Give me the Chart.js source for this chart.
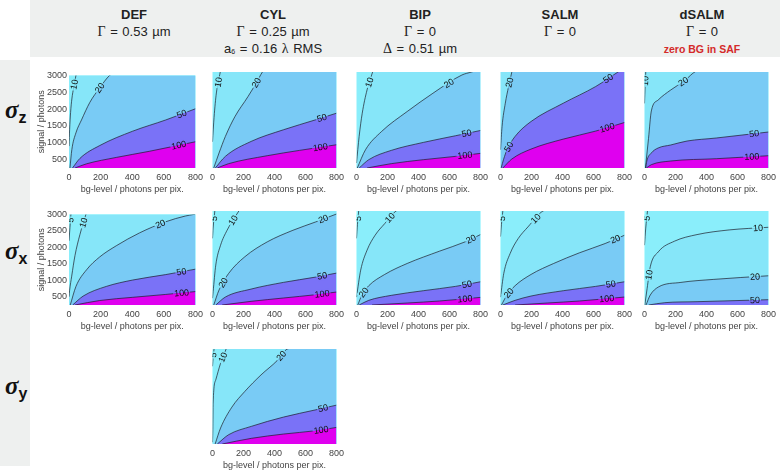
<!DOCTYPE html>
<html>
<head>
<meta charset="utf-8">
<script src="https://cdn.jsdelivr.net/npm/chart.js@4.4.1/dist/chart.umd.min.js"></script>
<style>
  body { margin: 0; width: 780px; height: 471px; position: relative; background: #fff; overflow: hidden;
         font-family: "Liberation Sans", Arial, sans-serif; }
  .hdr { position: absolute; left: 30px; top: 0; width: 750px; height: 57px; background: #eef0ef; }
  .side { position: absolute; left: 0; top: 60px; width: 30px; height: 406px; background: #eef0ef; }
  .col { position: absolute; top: 6px; width: 160px; margin-left: -80px; text-align: center;
         color: #222; font-size: 13px; line-height: 17px; white-space: nowrap; word-spacing: 1px; }
  .col b { font-size: 13px; }
  .col .g { font-family: "Liberation Serif", "Times New Roman", serif; font-size: 14px; }
  .col .red { color: #d42a2a; font-weight: bold; font-size: 10.5px; word-spacing: 0; }
  .col sub { font-size: 7px; vertical-align: -1px; }
  .sig { position: absolute; left: 5px; color: #111; white-space: nowrap; }
  .sig i { font-family: "Liberation Serif", "Times New Roman", serif; font-weight: bold; font-size: 25px; }
  .sig b { font-size: 16px; position: relative; top: 5px; }
  canvas { position: absolute; }
</style>
</head>
<body>
<div class="hdr"></div>
<div class="side"></div>
<div class="col" style="left:134px"><b>DEF</b><br><span class="g">Γ</span> = 0.53 µm</div>
<div class="col" style="left:273px"><b>CYL</b><br><span class="g">Γ</span> = 0.25 µm<br>a<sub>6</sub> = 0.16 <span class="g">λ</span> RMS</div>
<div class="col" style="left:420px"><b>BIP</b><br><span class="g">Γ</span> = 0<br><span class="g">Δ</span> = 0.51 µm</div>
<div class="col" style="left:560px"><b>SALM</b><br><span class="g">Γ</span> = 0</div>
<div class="col" style="left:702px"><b>dSALM</b><br><span class="g">Γ</span> = 0<br><span class="red">zero BG in SAF</span></div>
<div class="sig" style="top:96px"><i>σ</i><b>z</b></div>
<div class="sig" style="top:237px"><i>σ</i><b>x</b></div>
<div class="sig" style="top:372px"><i>σ</i><b>y</b></div>

<script>
// axes
const xTicks = [0, 200, 400, 600, 800];
const yTicks = [500, 1000, 1500, 2000, 2500, 3000];
const xMax = 800, yMin = 250, yMax = 3000;

// contour lines, [bg-level, signal]
// sigma z
const DEF_Z_10 = [[0, 900], [4, 1400], [10, 1900], [18, 2300], [30, 2650], [44, 3000]];
const DEF_Z_20 = [[6, 250], [18, 800], [44, 1297], [79, 1677], [132, 2200], [194, 2629], [257, 3000]];
const DEF_Z_50 = [[22, 250], [69, 535], [194, 916], [403, 1344], [612, 1677], [800, 2010]];
const DEF_Z_100 = [[38, 250], [111, 374], [299, 564], [507, 745], [800, 1030]];

const CYL_Z_10 = [[0, 1000], [10, 1700], [25, 2400], [50, 3000]];
const CYL_Z_20 = [[8, 250], [42, 678], [83, 1154], [145, 1725], [229, 2296], [281, 2677], [322, 3000]];
const CYL_Z_50 = [[18, 250], [83, 583], [249, 1011], [457, 1344], [665, 1630], [800, 1820]];
const CYL_Z_100 = [[31, 250], [104, 374], [353, 602], [561, 754], [800, 916]];

const BIP_Z_10 = [[0, 393], [17, 1154], [37, 1820], [68, 2486], [104, 3000]];
const BIP_Z_20 = [[5, 250], [58, 773], [162, 1297], [327, 1868], [493, 2391], [680, 2914], [742, 3000]];
const BIP_Z_50 = [[17, 250], [79, 488], [224, 754], [431, 983], [638, 1173], [800, 1325]];
const BIP_Z_100 = [[68, 250], [224, 374], [431, 488], [638, 583], [800, 669]];

const SALM_Z_20 = [[0, 773], [10, 1439], [31, 2106], [52, 2581], [73, 3000]];
const SALM_Z_50 = [[4, 250], [20, 500], [42, 773], [94, 1154], [197, 1582], [405, 2106], [613, 2581], [758, 3000]];
const SALM_Z_100 = [[15, 250], [73, 507], [197, 792], [405, 1078], [613, 1306], [800, 1553]];

const DSALM_Z_10 = [[0, 2100], [4, 2600], [8, 3000]];
const DSALM_Z_20 = [[6, 250], [26, 1100], [44, 1883], [88, 2198], [169, 2484], [256, 2742], [338, 3029]];
const DSALM_Z_50 = [[8, 250], [15, 450], [44, 680], [88, 823], [169, 909], [275, 1023], [463, 1109], [800, 1281]];
const DSALM_Z_100 = [[12, 250], [44, 345], [169, 450], [463, 516], [800, 602]];

// sigma x
const DEF_X_5 = [[0, 2200], [6, 2600], [12, 3000]];
const DEF_X_10 = [[0, 500], [4, 700], [17, 1125], [38, 1756], [69, 2388], [107, 3000]];
const DEF_X_20 = [[8, 250], [44, 814], [111, 1319], [194, 1708], [299, 2048], [445, 2436], [612, 2777], [737, 2952], [790, 3000]];
const DEF_X_50 = [[23, 250], [90, 522], [236, 814], [403, 1008], [612, 1173], [800, 1338]];
const DEF_X_100 = [[38, 250], [194, 386], [403, 483], [612, 571], [800, 658]];

const CYL_X_5 = [[0, 2200], [4, 2500], [15, 3000]];
const CYL_X_10 = [[0, 450], [4, 639], [21, 1416], [52, 1999], [94, 2436], [145, 2825], [170, 3000]];
const CYL_X_20 = [[8, 250], [42, 687], [104, 1173], [208, 1659], [353, 2096], [519, 2436], [665, 2679], [800, 2912]];
const CYL_X_50 = [[21, 250], [83, 483], [249, 716], [457, 911], [665, 1066], [800, 1183]];
const CYL_X_100 = [[62, 250], [249, 357], [457, 454], [665, 551], [800, 629]];

const BIP_X_5 = [[0, 2200], [6, 2600], [14, 3000]];
const BIP_X_10 = [[0, 480], [27, 1270], [68, 1853], [120, 2291], [182, 2631], [255, 3000]];
const BIP_X_20 = [[8, 250], [37, 561], [79, 814], [182, 1144], [327, 1465], [535, 1824], [700, 2096], [800, 2310]];
const BIP_X_50 = [[17, 250], [79, 386], [224, 532], [431, 668], [638, 794], [800, 930]];
const BIP_X_100 = [[100, 250], [327, 308], [535, 367], [800, 473]];

const SALM_X_5 = [[0, 2250], [6, 2600], [15, 3000]];
const SALM_X_10 = [[0, 480], [21, 1173], [62, 1756], [114, 2193], [177, 2534], [274, 3000]];
const SALM_X_20 = [[6, 250], [42, 541], [94, 814], [197, 1144], [343, 1465], [509, 1776], [675, 2048], [800, 2291]];
const SALM_X_50 = [[15, 250], [94, 386], [197, 512], [405, 668], [613, 794], [800, 930]];
const SALM_X_100 = [[94, 250], [301, 308], [509, 367], [800, 483]];

const DSALM_X_5 = [[0, 2000], [8, 2500], [19, 3000]];
const DSALM_X_10 = [[2, 250], [17, 736], [37, 1367], [89, 1805], [193, 2116], [339, 2310], [546, 2446], [800, 2524]];
const DSALM_X_20 = [[10, 250], [37, 541], [89, 775], [235, 911], [443, 998], [800, 1105]];
const DSALM_X_50 = [[27, 250], [131, 318], [339, 347], [800, 405]];

// sigma y
const CYL_Y_5 = [[0, 2500], [4, 2750], [10, 3000]];
const CYL_Y_10 = [[0, 300], [2, 663], [4, 1433], [21, 2106], [52, 2586], [88, 3000]];
const CYL_Y_20 = [[17, 250], [52, 712], [125, 1317], [208, 1769], [313, 2250], [417, 2663], [483, 3000]];
const CYL_Y_50 = [[31, 250], [104, 519], [250, 760], [458, 1029], [667, 1240], [800, 1375]];
const CYL_Y_100 = [[63, 250], [250, 413], [458, 538], [667, 635], [800, 731]];

// band colours, index i = region just above contour levels[i]
const levels = [5, 10, 20, 50, 100];
const bandColors = ['#8ff6fd', '#8aeefb', '#86e6f9', '#79cbf5', '#7a72f7', '#df00ef'];

const colLeft = [69, 210, 354, 498, 642];
const rowTop = [72, 211, 349];
const rowH = [96, 94, 95];
const plotW = 128;

const plots = [
  { row: 0, col: 0, yAxis: true, curves: [[10, DEF_Z_10], [20, DEF_Z_20], [50, DEF_Z_50], [100, DEF_Z_100]],
    labels: [[10, 38, 2724], [20, 194, 2629], [50, 712, 1868], [100, 695, 916]] },
  { row: 0, col: 1, curves: [[10, CYL_Z_10], [20, CYL_Z_20], [50, CYL_Z_50], [100, CYL_Z_100]],
    labels: [[10, 52, 2695], [20, 281, 2695], [50, 706, 1677], [100, 696, 849]] },
  { row: 0, col: 2, curves: [[10, BIP_Z_10], [20, BIP_Z_20], [50, BIP_Z_50], [100, BIP_Z_100]],
    labels: [[10, 89, 2695], [20, 576, 2819], [50, 711, 1230], [100, 700, 602]] },
  { row: 0, col: 3, curves: [[20, SALM_Z_20], [50, SALM_Z_50], [100, SALM_Z_100]],
    labels: [[20, 62, 2695], [50, 686, 2867], [50, 42, 888], [100, 686, 1439]] },
  { row: 0, col: 4, curves: [[10, DSALM_Z_10], [20, DSALM_Z_20], [50, DSALM_Z_50], [100, DSALM_Z_100]],
    labels: [[10, 25, 2742], [20, 245, 2760], [50, 709, 1201], [100, 692, 583]] },
  { row: 1, col: 0, yAxis: true, curves: [[5, DEF_X_5], [10, DEF_X_10], [20, DEF_X_20], [50, DEF_X_50], [100, DEF_X_100]],
    labels: [[5, 23, 2825], [10, 107, 2728], [20, 570, 2796], [50, 712, 1222], [100, 712, 619]] },
  { row: 1, col: 1, curves: [[5, CYL_X_5], [10, CYL_X_10], [20, CYL_X_20], [50, CYL_X_50], [100, CYL_X_100]],
    labels: [[5, 15, 2777], [10, 135, 2728], [20, 707, 2854], [20, 66, 911], [50, 707, 1125], [100, 707, 571]] },
  { row: 1, col: 2, curves: [[5, BIP_X_5], [10, BIP_X_10], [20, BIP_X_20], [50, BIP_X_50], [100, BIP_X_100]],
    labels: [[5, 27, 2777], [10, 234, 2728], [20, 732, 2242], [20, 41, 639], [50, 711, 882], [100, 700, 425]] },
  { row: 1, col: 3, curves: [[5, SALM_X_5], [10, SALM_X_10], [20, SALM_X_20], [50, SALM_X_50], [100, SALM_X_100]],
    labels: [[5, 27, 2777], [10, 239, 2728], [20, 733, 2261], [20, 42, 639], [50, 711, 882], [100, 686, 425]] },
  { row: 1, col: 4, curves: [[5, DSALM_X_5], [10, DSALM_X_10], [20, DSALM_X_20], [50, DSALM_X_50]],
    labels: [[5, 48, 2777], [10, 733, 2485], [10, 37, 1125], [20, 713, 1095], [50, 713, 386]] },
  { row: 2, col: 1, curves: [[5, CYL_Y_5], [10, CYL_Y_10], [20, CYL_Y_20], [50, CYL_Y_50], [100, CYL_Y_100]],
    labels: [[5, 4, 2827], [10, 83, 2731], [20, 438, 2827], [50, 708, 1385], [100, 698, 731]] }
];

Chart.defaults.font.family = '"Liberation Sans", Arial, sans-serif';
Chart.defaults.font.size = 9;
Chart.defaults.color = '#444';

const areaBg = {
  id: 'areaBg',
  beforeDatasetsDraw(chart, args, opts) {
    const a = chart.chartArea, ctx = chart.ctx;
    ctx.save();
    ctx.fillStyle = opts.color;
    ctx.fillRect(a.left, a.top, a.right - a.left, a.bottom - a.top);
    ctx.restore();
  }
};

// inline contour labels, placed at the nearest point of the line
const contourLabels = {
  id: 'contourLabels',
  afterDatasetsDraw(chart) {
    const ctx = chart.ctx, a = chart.chartArea;
    const xs = chart.scales.x, ys = chart.scales.y;
    ctx.save();
    ctx.beginPath();
    ctx.rect(a.left, a.top, a.right - a.left, a.bottom - a.top);
    ctx.clip();
    ctx.font = '9px "Liberation Sans", Arial, sans-serif';
    ctx.textAlign = 'center';
    ctx.textBaseline = 'middle';
    chart.data.datasets.forEach((ds, i) => {
      const pts = chart.getDatasetMeta(i).data;
      ds.marks.forEach(([lx, ly]) => {
        const px = xs.getPixelForValue(lx), py = ys.getPixelForValue(ly);
        let best = null;
        for (let k = 0; k < pts.length - 1; k++) {
          const p0 = pts[k], p1 = pts[k + 1];
          const dx = p1.x - p0.x, dy = p1.y - p0.y;
          const len2 = dx * dx + dy * dy || 1;
          let t = ((px - p0.x) * dx + (py - p0.y) * dy) / len2;
          t = Math.max(0, Math.min(1, t));
          const qx = p0.x + t * dx, qy = p0.y + t * dy;
          const d = (qx - px) ** 2 + (qy - py) ** 2;
          if (!best || d < best.d) best = { d, qx, qy, ang: Math.atan2(dy, dx) };
        }
        const txt = String(ds.level);
        const w = ctx.measureText(txt).width + 2;
        ctx.save();
        ctx.translate(best.qx, best.qy);
        ctx.rotate(best.ang);
        ctx.fillStyle = ds.above;
        ctx.fillRect(-w / 2, -4.5, w, 4.5);
        ctx.fillStyle = ds.backgroundColor;
        ctx.fillRect(-w / 2, 0, w, 4.5);
        ctx.fillStyle = '#111';
        ctx.fillText(txt, 0, 0.5);
        ctx.restore();
      });
    });
    ctx.restore();
  }
};

// carry a line that leaves through the top straight on, so the fill closes at the right edge
function extendTop(data) {
  const last = data[data.length - 1], prev = data[data.length - 2];
  if (last.y < yMax || last.x >= xMax) return;
  const sx = last.x - prev.x, sy = last.y - prev.y;
  const nx = last.x + sx;
  if (nx >= xMax) {
    data.push({ x: xMax, y: last.y + sy * (xMax - last.x) / sx });
  } else {
    data.push({ x: nx, y: last.y + sy });
    data.push({ x: xMax, y: last.y + sy + 20000 });
  }
}

function makeChart(p) {
  const padL = p.yAxis ? 33 : 4;
  const h = rowH[p.row];
  const cv = document.createElement('canvas');
  const W = padL + plotW + 10, H = 4 + h + 27;
  cv.width = W; cv.height = H;
  cv.style.left = (colLeft[p.col] - padL) + 'px';
  cv.style.top = (rowTop[p.row] - 4) + 'px';
  document.body.appendChild(cv);

  // highest level first: drawn last, on top of the wider fills
  const curves = p.curves.slice().sort((u, v) => v[0] - u[0]);
  const lowest = Math.min(...p.curves.map(c => c[0]));
  const datasets = curves.map(([lev, arr]) => {
    const idx = levels.indexOf(lev);
    const data = arr.map(([x, y]) => ({ x, y }));
    extendTop(data);
    return {
      level: lev,
      data,
      showLine: true,
      fill: 'start',
      backgroundColor: bandColors[idx + 1],
      above: bandColors[idx],
      borderColor: '#1c1c2a',
      borderWidth: 0.7,
      pointRadius: 0,
      cubicInterpolationMode: 'monotone',
      marks: p.labels.filter(l => l[0] === lev).map(l => [l[1], l[2]])
    };
  });

  new Chart(cv, {
    type: 'scatter',
    data: { datasets },
    options: {
      responsive: false,
      animation: false,
      events: [],
      layout: { padding: { left: p.yAxis ? 0 : 4, top: 4, right: 10, bottom: 0 } },
      plugins: {
        legend: { display: false },
        tooltip: { enabled: false },
        areaBg: { color: bandColors[levels.indexOf(lowest)] }
      },
      scales: {
        x: {
          type: 'linear', min: 0, max: xMax,
          afterBuildTicks: s => { s.ticks = xTicks.map(v => ({ value: v })); },
          afterFit: s => { s.height = 27; },
          grid: { display: false, drawTicks: false },
          border: { display: false },
          ticks: { padding: 4, maxRotation: 0, autoSkip: false, callback: v => String(v), color: '#444' },
          title: { display: true, text: 'bg-level / photons per pix.', padding: 0, color: '#444', font: { size: 9 } }
        },
        y: {
          type: 'linear', min: yMin, max: yMax,
          display: !!p.yAxis,
          afterBuildTicks: s => { s.ticks = yTicks.map(v => ({ value: v })); },
          afterFit: s => { if (p.yAxis) s.width = padL; },
          grid: { display: false, drawTicks: false },
          border: { display: false },
          ticks: { padding: 2, callback: v => String(v), color: '#444' },
          title: { display: true, text: 'signal / photons', padding: 0, color: '#444', font: { size: 9 } }
        }
      }
    },
    plugins: [areaBg, contourLabels]
  });
}

plots.forEach(makeChart);
</script>
</body>
</html>
